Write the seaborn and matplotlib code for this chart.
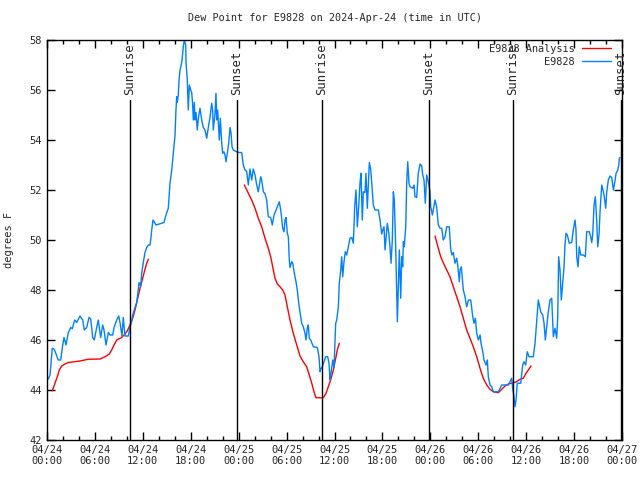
import numpy as np
import pandas as pd
import matplotlib
matplotlib.use('Agg')
import matplotlib.pyplot as plt
import matplotlib.dates as mdates
from matplotlib.lines import Line2D
import seaborn as sns

# horas desde 2024-04-24 00:00 UTC
obs_h = [0.16, 0.38, 0.66, 0.91, 1.41, 1.72, 1.92, 2.13, 2.38, 2.67, 2.97, 3.17, 3.47, 3.72,
         4.13, 4.47, 4.67, 4.97, 5.26, 5.47, 5.72, 5.92, 6.22, 6.42, 6.72, 6.97, 7.14, 7.39,
         7.68, 7.89, 8.23, 8.39, 8.73, 8.98, 9.14, 9.39, 9.55, 9.77, 10.18, 10.39, 10.61,
         10.73, 10.93, 11.23, 11.43, 11.52, 11.73, 11.86, 12.06, 12.27, 12.48, 12.69, 12.90,
         13.02, 13.11, 13.27, 13.65, 14.15, 14.65, 14.90, 15.19, 15.40, 15.62, 15.82, 16.03,
         16.15, 16.24, 16.31, 16.44, 16.53, 16.66, 16.87, 16.99, 17.07, 17.19, 17.37, 17.41,
         17.57, 17.69, 17.82, 17.99, 18.12, 18.24, 18.32, 18.45, 18.53, 18.66, 18.82, 18.95,
         19.16, 19.37, 19.57, 19.78, 20.00, 20.20, 20.41, 20.62, 20.74, 20.82, 21.04, 21.16,
         21.25, 21.37, 21.58, 21.70, 21.88, 22.00, 22.16, 22.29, 22.41, 22.58, 22.75, 22.92,
         23.04, 23.17, 23.33, 23.75, 24.04, 24.38, 24.58, 24.79, 25.00, 25.21, 25.42, 25.63,
         25.83, 26.05, 26.26, 26.46, 26.76, 26.88, 27.09, 27.30, 27.51, 27.71, 28.01, 28.21,
         28.43, 28.76, 29.09, 29.26, 29.39, 29.51, 29.68, 29.80, 29.93, 30.09, 30.22, 30.34,
         30.43, 30.64, 30.77, 30.97, 31.18, 31.34, 31.52, 31.68, 31.89, 32.09, 32.31, 32.43,
         32.59, 32.72, 32.84, 33.02, 33.35, 33.85, 34.06, 34.19, 34.31, 34.47, 34.69, 34.90,
         35.15, 35.31, 35.44, 35.56, 35.78, 35.94, 36.15, 36.28, 36.48, 36.60, 36.78, 36.90,
         37.03, 37.19, 37.35, 37.53, 37.73, 37.94, 38.16, 38.36, 38.53, 38.69, 38.86, 39.03,
         39.19, 39.32, 39.48, 39.61, 39.82, 39.94, 40.11, 40.23, 40.36, 40.53, 40.66, 40.86,
         41.07, 41.49, 41.70, 41.91, 42.04, 42.20, 42.33, 42.49, 42.61, 42.79, 42.95, 43.08,
         43.24, 43.37, 43.49, 43.66, 43.79, 43.87, 43.95, 44.12, 44.29, 44.42, 44.54, 44.62,
         44.74, 44.92, 45.04, 45.17, 45.33, 45.46, 45.79, 45.96, 46.08, 46.29, 46.49, 46.71,
         46.92, 47.05, 47.21, 47.37, 47.55, 47.75, 47.96, 48.05, 48.25, 48.37, 48.59, 48.80,
         49.00, 49.21, 49.42, 49.62, 49.84, 50.05, 50.37, 50.55, 50.71, 50.88, 51.09, 51.30,
         51.43, 51.63, 51.72, 51.88, 52.13, 52.34, 52.55, 52.76, 53.06, 53.31, 53.47, 53.64,
         53.81, 54.02, 54.23, 54.35, 54.56, 54.72, 54.97, 55.14, 55.26, 55.47, 55.69, 55.89,
         56.51, 56.94, 57.76, 57.97, 58.19, 58.31, 58.47, 58.60, 58.73, 58.89, 59.32, 59.57,
         59.73, 59.94, 60.14, 60.36, 60.89, 61.11, 61.32, 61.52, 61.65, 61.82, 62.07, 62.24,
         62.40, 62.57, 62.77, 62.99, 63.20, 63.40, 63.61, 63.82, 63.95, 64.07, 64.24, 64.40,
         64.53, 64.74, 64.86, 64.99, 65.15, 65.40, 65.70, 65.90, 66.12, 66.24, 66.33, 66.49,
         66.65, 66.83, 67.16, 67.41, 67.58, 67.91, 68.08, 68.21, 68.33, 68.50, 68.66, 68.84,
         68.96, 69.12, 69.25, 69.46, 69.62, 69.75, 69.96, 70.09, 70.29, 70.50, 70.71, 70.92,
         71.04, 71.26, 71.47, 71.60, 71.67, 71.75]
obs_f = [44.44, 44.6, 45.67, 45.63, 45.2, 45.2, 45.7, 46.1, 45.8, 46.3, 46.5, 46.45, 46.8, 46.7,
         46.96, 46.8, 46.4, 46.5, 46.9, 46.85, 46.1, 46.0, 46.5, 46.8, 46.1, 46.6, 46.4, 45.8,
         46.3, 46.2, 46.2, 46.5, 46.8, 46.96, 46.7, 46.16, 46.9, 46.16, 46.16, 46.5, 46.77,
         47.0, 47.2, 47.5, 48.0, 48.3, 48.15, 48.67, 49.1, 49.5, 49.7, 49.8, 49.8,
         50.1, 50.4, 50.8, 50.6, 50.65, 50.7, 51.0, 51.27, 52.27, 52.8, 53.5, 54.2,
         55.2, 55.73, 55.5, 55.8, 56.4, 56.8, 57.1, 57.47, 57.73, 58.0, 57.8, 57.07,
         56.4, 55.2, 56.2, 56.0, 55.9, 55.4, 54.8, 55.5, 54.8, 55.1, 54.4, 54.87,
         55.27, 54.8, 54.5, 54.4, 54.07, 54.5, 54.9, 55.47, 55.2, 54.4, 55.07, 55.87,
         54.8, 55.2, 54.0, 54.87, 53.87, 53.47, 53.53, 53.4, 53.13, 53.47, 53.87, 54.5,
         54.3, 53.73, 53.6, 53.53, 53.5, 53.5, 53.0, 52.8, 52.75, 52.2, 52.84, 52.4,
         52.84, 52.6, 52.2, 51.93, 52.53, 52.4, 51.93, 51.85, 51.6, 50.93, 50.9, 50.6,
         51.0, 51.27, 51.53, 51.2, 50.87, 50.47, 50.33, 50.8, 50.9, 50.27, 50.13, 49.2,
         48.9, 49.13, 49.07, 48.67, 48.33, 48.0, 47.47, 47.13, 46.67, 46.53, 46.27, 46.0,
         46.47, 46.6, 46.07, 46.0, 45.73, 45.7, 45.33, 44.73, 44.85, 44.93, 45.13, 45.33,
         45.33, 45.07, 44.4, 44.67, 45.2, 44.9, 46.67, 46.8, 47.33, 48.27, 48.8, 49.33,
         48.53, 49.13, 49.53, 49.4, 49.73, 50.07, 50.1, 49.87, 51.33, 52.0, 50.53, 51.33,
         52.27, 52.67, 50.8, 51.93, 51.9, 52.67, 51.27, 52.2, 53.1, 52.83, 52.3, 51.4,
         51.2, 51.2, 50.8, 50.24, 50.4, 50.53, 49.6, 50.2, 50.67, 50.3, 49.73, 49.07,
         50.0, 51.93, 51.6, 49.73, 47.8, 46.73, 47.6, 49.6, 47.67, 49.33, 48.93, 49.93,
         49.73, 50.53, 52.27, 53.13, 52.27, 52.13, 52.07, 52.2, 51.73, 51.7, 52.67, 53.04,
         52.96, 52.6, 52.4, 51.47, 52.6, 52.33, 51.93, 51.33, 51.0, 51.2, 51.6, 51.3,
         50.6, 50.47, 50.47, 50.0, 50.13, 50.53, 50.53, 49.63, 49.4, 49.5, 49.07, 49.27,
         49.0, 48.33, 48.8, 48.93, 48.0, 47.73, 47.33, 47.6, 47.6, 46.93, 46.67, 46.87,
         46.27, 46.0, 46.2, 45.87, 45.53, 45.2, 45.0, 45.2, 44.53, 44.2, 44.13, 43.93,
         43.93, 44.2, 44.2, 44.33, 44.47, 44.07, 43.73, 43.33, 43.6, 44.27, 44.27, 45.0,
         45.13, 45.0, 45.53, 45.33, 45.33, 45.87, 46.73, 47.6, 47.4, 47.13, 47.0, 46.67,
         46.0, 46.53, 47.13, 47.6, 47.67, 46.13, 46.47, 46.07, 46.93, 49.33, 48.8, 47.6,
         48.13, 48.93, 49.8, 50.27, 50.2, 49.87, 49.9, 50.4, 50.8, 50.4, 49.33, 48.93,
         49.73, 49.4, 49.4, 49.33, 50.33, 50.33, 50.13, 49.9, 50.2, 51.4, 51.73, 50.73,
         49.73, 50.2, 51.13, 52.2, 52.0, 51.8, 51.27, 51.93, 52.4, 52.56, 52.5, 52.0,
         52.2, 52.67, 52.8, 53.0, 53.27, 53.3]

# analise (tres trechos)
an1_h = [0.66, 1.0, 1.29, 1.54, 1.84, 2.25, 2.67, 4.13, 5.17, 6.64, 7.26, 7.80, 8.10, 8.39,
         8.73, 9.35, 9.77, 10.06, 10.39, 10.73, 11.02, 11.31, 11.65, 11.98, 12.27, 12.48, 12.69]
an1_f = [43.96, 44.27, 44.53, 44.8, 44.96, 45.04, 45.1, 45.16, 45.23, 45.24, 45.33, 45.44, 45.6,
         45.8, 46.0, 46.1, 46.24, 46.37, 46.6, 46.87, 47.2, 47.6, 48.07, 48.47, 48.83, 49.07, 49.23]
an2_h = [24.71, 25.21, 25.63, 26.05, 26.46, 26.88, 27.30, 27.71, 28.01, 28.26, 28.55, 28.84,
         29.18, 29.51, 29.80, 30.09, 30.43, 30.84, 31.27, 31.68, 32.09, 32.52, 32.84, 33.15,
         33.43, 33.68, 34.60, 34.94, 35.22, 35.52, 35.85, 36.19, 36.35, 36.60]
an2_f = [52.2, 51.87, 51.6, 51.27, 50.87, 50.53, 50.07, 49.67, 49.33, 48.93, 48.47, 48.24,
         48.13, 48.0, 47.8, 47.33, 46.8, 46.27, 45.8, 45.36, 45.13, 44.93, 44.6, 44.27,
         43.93, 43.69, 43.69, 43.87, 44.13, 44.4, 44.8, 45.33, 45.6, 45.87]
an3_h = [48.59, 49.0, 49.30, 49.62, 50.05, 50.46, 50.88, 51.30, 51.72, 52.13, 52.55, 52.97,
         53.38, 53.81, 54.22, 54.63, 55.06, 55.47, 55.89, 56.51, 56.94, 57.35, 57.76, 58.38,
         58.80, 59.23, 59.64, 59.98, 60.27, 60.61]
an3_f = [50.16, 49.67, 49.33, 49.09, 48.8, 48.53, 48.13, 47.73, 47.33, 46.87, 46.4, 46.07,
         45.73, 45.33, 44.87, 44.47, 44.2, 44.03, 43.93, 43.89, 44.03, 44.16, 44.24, 44.29,
         44.33, 44.43, 44.47, 44.67, 44.8, 44.96]

sol_h = [10.39, 23.79, 34.43, 47.83, 58.35, 71.88]
sol_txt = ['Sunrise', 'Sunset', 'Sunrise', 'Sunset', 'Sunrise', 'Sunset']

t0 = pd.Timestamp('2024-04-24 00:00')
def horas(h):
    return t0 + pd.to_timedelta(np.array(h), unit='h')

obs = pd.DataFrame({'tempo': horas(obs_h), 'dp': obs_f})
analise = pd.concat([
    pd.DataFrame({'tempo': horas(h), 'dp': f, 'trecho': i})
    for i, (h, f) in enumerate([(an1_h, an1_f), (an2_h, an2_f), (an3_h, an3_f)])
])

sns.set_style('ticks')
plt.rcParams['font.family'] = ['DejaVu Sans Mono']
plt.rcParams['font.size'] = 7.5

fig = plt.figure(figsize=(6.4, 4.8), dpi=100)
ax = fig.add_axes([47/640, 40/480, 575/640, 400/480])

sns.lineplot(data=analise, x='tempo', y='dp', units='trecho', estimator=None,
             color='#ff0000', lw=1, ax=ax, legend=False)
sns.lineplot(data=obs, x='tempo', y='dp', color='#0080ff', lw=1, ax=ax, legend=False)

# linhas de nascer/por do sol
for h, txt in zip(sol_h, sol_txt):
    t = horas([h])[0]
    ax.plot([t, t], [42, 55.6], color='black', lw=1)
    ax.text(t, 55.8, txt, rotation=90, ha='center', va='bottom', fontsize=8.8)

ax.set_xlim(t0, t0 + pd.Timedelta(hours=72))
ax.set_ylim(42, 58)
ax.set_yticks(range(42, 59, 2))
ax.xaxis.set_major_locator(mdates.HourLocator(byhour=[0, 6, 12, 18]))
ax.xaxis.set_minor_locator(mdates.HourLocator(byhour=range(0, 24, 2)))
ax.xaxis.set_major_formatter(mdates.DateFormatter('%m/%d\n%H:%M'))
ax.tick_params(which='both', direction='in', top=True, right=True, color='black')
ax.tick_params(which='major', length=6, width=1, labelsize=7.5)
ax.tick_params(which='minor', length=3, width=1)
for s in ax.spines.values():
    s.set_color('black')
    s.set_linewidth(1)

ax.set_xlabel('')
ax.set_ylabel('degrees F', fontsize=7.5)
ax.yaxis.set_label_coords(-0.058, 0.5)
ax.set_title('Dew Point for E9828 on 2024-Apr-24 (time in UTC)', fontsize=7.3, pad=14)

handles = [Line2D([], [], color='#ff0000', lw=1), Line2D([], [], color='#0080ff', lw=1)]
ax.legend(handles, ['E9828 Analysis', 'E9828'], loc='upper right',
          bbox_to_anchor=(0.98, 0.99), frameon=False,
          markerfirst=False, alignment='right', fontsize=7.4, handlelength=2.8,
          borderaxespad=0, borderpad=0, labelspacing=0.3, handletextpad=0.7)

plt.savefig('out.png', dpi=100)
